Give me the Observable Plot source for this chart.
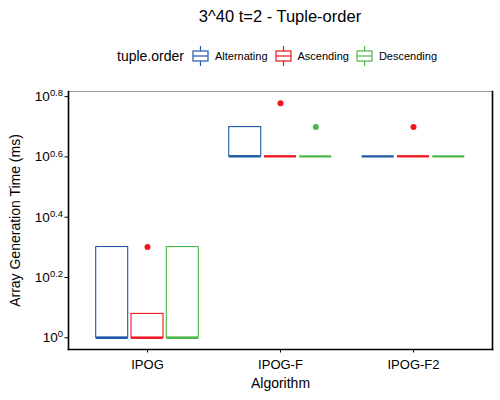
<!DOCTYPE html>
<html>
<head>
<meta charset="utf-8">
<script src="https://cdn.jsdelivr.net/npm/d3@7"></script>
<script src="https://cdn.jsdelivr.net/npm/@observablehq/plot@0.6"></script>
<style>
  body { margin: 0; background: #fff; font-family: "Liberation Sans", Arial, sans-serif; color: #000; }
  #title { position: absolute; top: 0; left: 68px; width: 424px; text-align: center; font-size: 16.5px; line-height: 32px; }
  #legend { position: absolute; top: 44px; left: 68px; width: 424px; height: 24px; display: flex; justify-content: center; align-items: center; }
  #legend .name { font-size: 14px; margin-right: 7px; }
  #legend .item { display: flex; align-items: center; font-size: 11px; margin-right: 6px; }
  #legend svg { margin-right: 5px; }
  #chart { position: absolute; top: 80px; left: 0; }
</style>
</head>
<body>
<div id="title">3^40 t=2 - Tuple-order</div>
<div id="legend"></div>
<div id="chart"></div>
<script>
// boxplot por algoritmo y orden de tuplas, eje y en log10

const algorithms = ["IPOG", "IPOG-F", "IPOG-F2"]
const orders = ["Alternating", "Ascending", "Descending"]
const colors = ["#1d5aa3", "#f0141c", "#4cb848"]

// bisagra inferior, mediana, bisagra superior (filas: algoritmo, columnas: orden), en ms
const lower  = [[1, 1, 1],   [4, 4, 4], [4, 4, 4]]
const median = [[1, 1, 1],   [4, 4, 4], [4, 4, 4]]
const upper  = [[2, 1.2, 2], [5, 4, 4], [4, 4, 4]]

// outliers
const outAlgorithm = ["IPOG", "IPOG-F", "IPOG-F", "IPOG-F2"]
const outOrder = ["Ascending", "Ascending", "Descending", "Ascending"]
const outValue = [2, 6, 5, 5]

const yTickExponents = [0, 0.2, 0.4, 0.6, 0.8]

const boxes = algorithms.flatMap((a, i) => orders.map((o, j) => ({
  algorithm: a, order: o, lower: lower[i][j], median: median[i][j], upper: upper[i][j]
})))
const outliers = outValue.map((v, i) => ({algorithm: outAlgorithm[i], order: outOrder[i], value: v}))

// expansion 5% como ggplot, en espacio log
const allValues = boxes.flatMap(d => [d.lower, d.upper]).concat(outValue)
const [lo, hi] = d3.extent(allValues).map(Math.log10)
const pad = (hi - lo) * 0.05

const offsets = [-35.3, 0, 35.3]

const marks = [
  Plot.frame({stroke: "#999", strokeWidth: 1}),
  Plot.frame({anchor: "left", stroke: "#000", strokeWidth: 1.6}),
  Plot.frame({anchor: "bottom", stroke: "#000", strokeWidth: 1.6}),
  Plot.frame({anchor: "right", stroke: "#000", strokeWidth: 1.6}),
  Plot.axisY({
    ticks: yTickExponents.map(e => 10 ** e),
    tickFormat: d => String(+Math.log10(d).toFixed(1)),
    tickSize: 3.5, tickPadding: 2, fontSize: 13.5, label: null, stroke: "#000"
  }),
  Plot.axisX({tickSize: 3.5, tickPadding: 7, fontSize: 13, label: null, stroke: "#000"}),
  Plot.text(["Array Generation Time (ms)"], {frameAnchor: "left", textAnchor: "middle", dx: -53, rotate: -90, fontSize: 14}),
  Plot.text(["Algorithm"], {frameAnchor: "bottom", textAnchor: "middle", dy: 38, fontSize: 14})
]

orders.forEach((o, j) => {
  const b = boxes.filter(d => d.order === o)
  const out = outliers.filter(d => d.order === o)
  marks.push(
    Plot.barY(b, {x: "algorithm", y1: "lower", y2: "upper", dx: offsets[j], fill: "white", stroke: colors[j], strokeWidth: 1.1}),
    Plot.tickY(b, {x: "algorithm", y: "median", dx: offsets[j], stroke: colors[j], strokeWidth: 2.3}),
    Plot.dot(out, {x: "algorithm", y: "value", dx: offsets[j], fill: colors[j], r: 3})
  )
})

const chart = Plot.plot({
  width: 500,
  height: 320,
  marginTop: 11,
  marginBottom: 51,
  marginLeft: 68,
  marginRight: 8,
  style: {fontFamily: "Liberation Sans, Arial, sans-serif", color: "#000", background: "white"},
  x: {domain: algorithms, paddingInner: 0.7625, paddingOuter: 0.469, align: 0.5},
  y: {type: "log", domain: [10 ** (lo - pad), 10 ** (hi + pad)]},
  marks
})

// superindices en las etiquetas del eje y
d3.select(chart).selectAll('g[aria-label="y-axis tick label"] text').each(function () {
  const t = d3.select(this)
  const e = t.text()
  t.text("10")
  t.append("tspan").attr("dy", "-0.5em").attr("font-size", "0.7em").text(e)
})

d3.select("#chart").append(() => chart)

// leyenda
const legend = d3.select("#legend")
legend.append("span").attr("class", "name").text("tuple.order")
orders.forEach((o, j) => {
  const item = legend.append("span").attr("class", "item")
  const s = item.append("svg").attr("width", 19).attr("height", 22)
  s.append("line").attr("x1", 9.5).attr("x2", 9.5).attr("y1", 1).attr("y2", 21).attr("stroke", colors[j]).attr("stroke-width", 1.2)
  s.append("rect").attr("x", 2).attr("y", 6).attr("width", 15).attr("height", 10).attr("fill", "white").attr("stroke", colors[j]).attr("stroke-width", 1.2)
  s.append("line").attr("x1", 2).attr("x2", 17).attr("y1", 11).attr("y2", 11).attr("stroke", colors[j]).attr("stroke-width", 1.2)
  item.append("span").text(o)
})
</script>
</body>
</html>
